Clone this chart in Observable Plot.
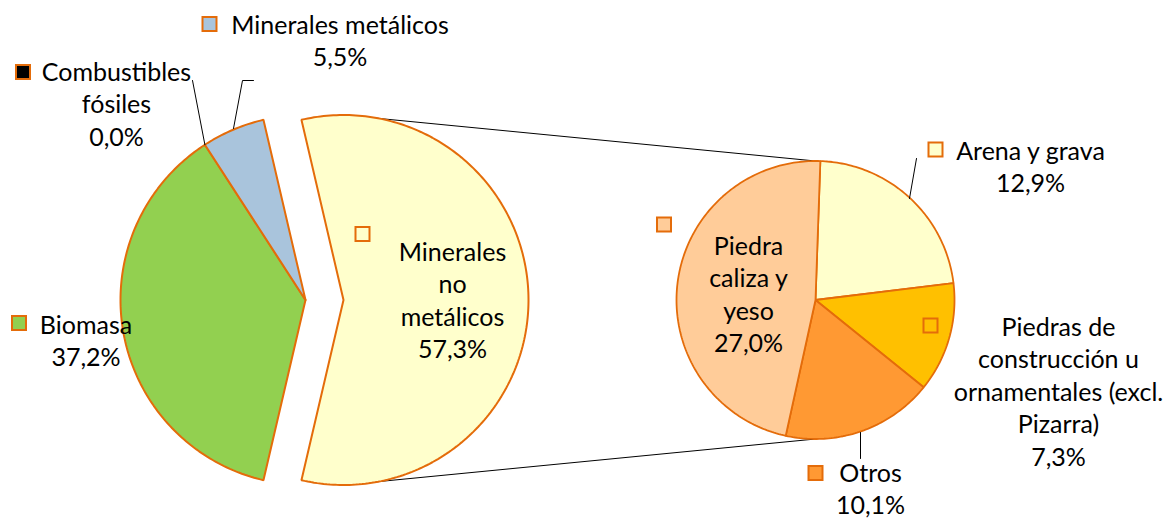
<!DOCTYPE html>
<html><head><meta charset="utf-8">
<script src="https://cdn.jsdelivr.net/npm/d3@7"></script>
<script src="https://cdn.jsdelivr.net/npm/@observablehq/plot@0.6"></script>
<style>html,body{margin:0;padding:0;background:#fff;} svg{display:block}</style>
</head><body><div id="chart"></div>
<script>
// ---- data ----
const mainCategories = ["Minerales no metálicos", "Biomasa", "Combustibles fósiles", "Minerales metálicos"];
const mainValues = [57.3, 37.2, 0.0, 5.5];
const mainColors = ["#FFFFCC", "#92D050", "#000000", "#A9C4DC"];
const mainLabelLines = [["Minerales", "no", "metálicos"], ["Biomasa"], ["Combustibles", "fósiles"], ["Minerales metálicos"]];

const subCategories = ["Arena y grava", "Piedras de construcción u ornamentales (excl. Pizarra)", "Otros", "Piedra caliza y yeso"];
const subValues = [12.9, 7.3, 10.1, 27.0];
const subColors = ["#FFFFCC", "#FFC000", "#FF9933", "#FFCC99"];
const subLabelLines = [["Arena y grava"], ["Piedras de", "construcción u", "ornamentales (excl.", "Pizarra)"], ["Otros"], ["Piedra", "caliza y", "yeso"]];

// ---- layout ----
const W = 1166, H = 520;
const border = "#E46C0A";
const fontSize = 25, lineStep = 32.5;
const main = {cx: 305, cy: 299.5, r: 185, explode: 38};
const sub = {cx: 815, cy: 299.5, r: 139, start: 2};
// label layout: text centre x, first baseline y, legend square centre
const mainLabelPos = [
  {cx: 452, y: 260, sx: 362.5, sy: 234},
  {cx: 85.5, y: 333, sx: 19, sy: 323},
  {cx: 116, y: 80, sx: 23, sy: 72},
  {cx: 339.5, y: 33, sx: 209.5, sy: 24}
];
const subLabelPos = [
  {cx: 1030, y: 159, sx: 935.5, sy: 149.5},
  {cx: 1058, y: 335, sx: 930.5, sy: 325.5},
  {cx: 870, y: 481, sx: 815.5, sy: 473},
  {cx: 748, y: 254, sx: 664, sy: 224.5}
];

const fmt = v => v.toFixed(1).replace(".", ",") + "%";
const rad = a => a * Math.PI / 180;
const pt = (cx, cy, r, a) => [cx + r * Math.sin(rad(a)), cy - r * Math.cos(rad(a))];

function slicePolygon(cx, cy, r, a0, a1) {
  const pts = [[cx, cy]];
  const n = Math.max(2, Math.ceil(Math.abs(a1 - a0)));
  for (let i = 0; i <= n; i++) pts.push(pt(cx, cy, r, a0 + (a1 - a0) * i / n));
  pts.push([cx, cy]);
  return pts;
}

// main pie: first slice (the one that is broken out) centred on the east
const mainTotal = d3.sum(mainValues);
const mainSlices = [];
{
  let a = 90 - (mainValues[0] / mainTotal * 360) / 2;
  mainValues.forEach((v, i) => {
    const span = v / mainTotal * 360;
    const a0 = a, a1 = a + span;
    a = a1;
    let cx = main.cx, cy = main.cy;
    if (i === 0) { const mid = (a0 + a1) / 2; cx += main.explode * Math.sin(rad(mid)); cy -= main.explode * Math.cos(rad(mid)); }
    mainSlices.push({i, a0, a1, cx, cy, color: mainColors[i], pts: v > 0 ? slicePolygon(cx, cy, main.r, a0, a1) : null});
  });
}
const subTotal = d3.sum(subValues);
const subSlices = [];
{
  let a = sub.start;
  subValues.forEach((v, i) => {
    const span = v / subTotal * 360;
    subSlices.push({i, a0: a, a1: a + span, color: subColors[i], pts: slicePolygon(sub.cx, sub.cy, sub.r, a, a + span)});
    a += span;
  });
}

const marks = [];
// connector lines between exploded slice and secondary pie
const ex = mainSlices[0];
const connectors = [
  {x1: ex.cx, y1: ex.cy - main.r, x2: sub.cx, y2: sub.cy - sub.r},
  {x1: ex.cx, y1: ex.cy + main.r, x2: sub.cx, y2: sub.cy + sub.r}
];
marks.push(Plot.link(connectors, {x1: "x1", y1: "y1", x2: "x2", y2: "y2", stroke: "#000", strokeWidth: 1}));

for (const s of mainSlices) if (s.pts)
  marks.push(Plot.line(s.pts, {x: d => d[0], y: d => d[1], fill: s.color, stroke: border, strokeWidth: 2, strokeLinejoin: "miter", curve: "linear"}));
for (const s of subSlices)
  marks.push(Plot.line(s.pts, {x: d => d[0], y: d => d[1], fill: s.color, stroke: border, strokeWidth: 1.8, strokeLinejoin: "miter", curve: "linear"}));

// leader lines
const leaders = [
  {id: "comb", pts: [[192, 80], pt(main.cx, main.cy, main.r, mainSlices[2].a0)]},
  {id: "met", pts: [[253, 80], [242, 80], [233, 128]]},
  {id: "arena", pts: [[916, 158], [909, 198]]},
  {id: "otros", pts: [[860, 432], [860, 458]]}
];
const leaderRows = leaders.flatMap(l => l.pts.map(p => ({id: l.id, x: p[0], y: p[1]})));
marks.push(Plot.line(leaderRows, {x: "x", y: "y", z: "id", stroke: "#000", strokeWidth: 1, curve: "linear"}));

// label texts
const textRows = [];
const squares = [];
function addLabels(lines, values, colors, pos) {
  lines.forEach((ls, i) => {
    const all = [...ls, fmt(values[i])];
    all.forEach((t, j) => textRows.push({text: t, x: pos[i].cx, y: pos[i].y + j * lineStep}));
    squares.push({x1: pos[i].sx - 7, x2: pos[i].sx + 7, y1: pos[i].sy - 7, y2: pos[i].sy + 7, fill: colors[i]});
  });
}
addLabels(mainLabelLines, mainValues, mainColors, mainLabelPos);
addLabels(subLabelLines, subValues, subColors, subLabelPos);

marks.push(Plot.rect(squares, {x1: "x1", x2: "x2", y1: "y1", y2: "y2", fill: d => d.fill, stroke: border, strokeWidth: 2, inset: 0}));
marks.push(Plot.text(textRows, {x: "x", y: "y", text: "text", fontSize, lineAnchor: "bottom", textAnchor: "middle", fill: "#000"}));

const chart = Plot.plot({
  width: W, height: H,
  margin: 0,
  x: {domain: [0, W], range: [0, W], axis: null},
  y: {domain: [0, H], range: [0, H], axis: null},
  color: {type: "identity"},
  style: {background: "#fff", fontFamily: "Lato, 'Open Sans', sans-serif"},
  marks
});
document.getElementById("chart").append(chart);
</script>
</body></html>
